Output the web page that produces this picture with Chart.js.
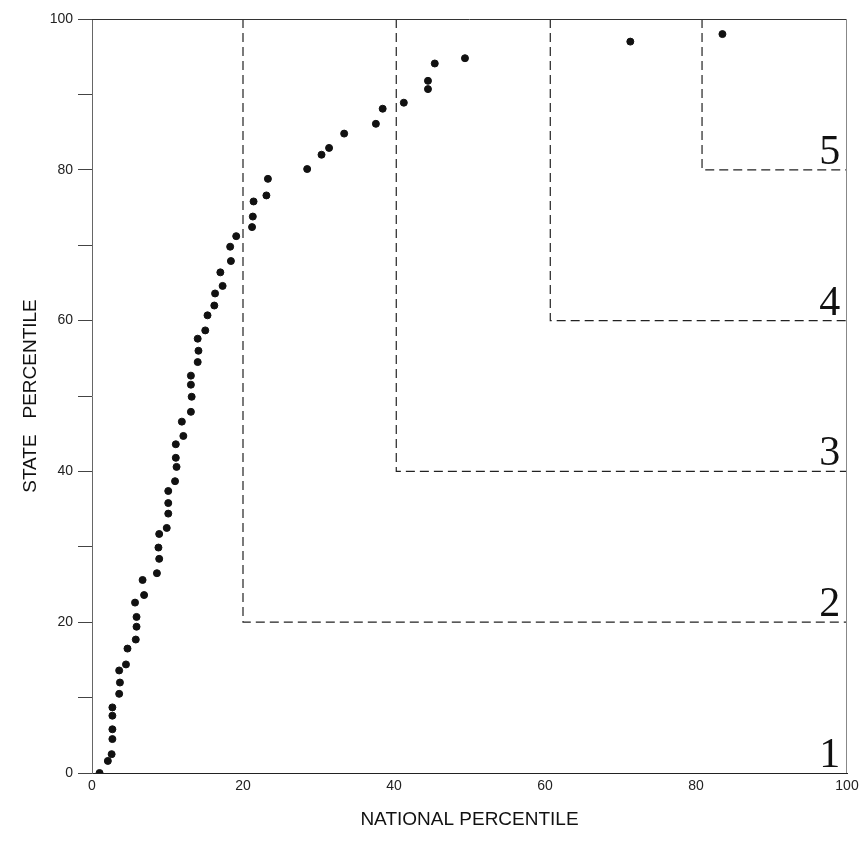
<!DOCTYPE html>
<html>
<head>
<meta charset="utf-8">
<script src="https://cdn.jsdelivr.net/npm/chart.js@4.4.0/dist/chart.umd.min.js"></script>
<style>
  html, body { margin: 0; padding: 0; background: #fff; }
  #wrap { width: 865px; height: 857px; }
</style>
</head>
<body>
<div id="wrap"><canvas id="chart" width="865" height="857"></canvas></div>
<script>
// national vs state percentile, one dot per school
const nationalPct = [
  1.0, 2.1, 2.6, 2.7, 2.7, 2.7, 2.7, 3.6, 3.7, 3.6,
  4.5, 4.7, 5.8, 5.9, 5.9, 5.7, 6.9, 6.7, 8.6, 8.9,
  8.8, 8.9, 9.9, 10.1, 10.1, 10.1, 11.0, 11.2, 11.1, 11.1,
  12.1, 11.9, 13.1, 13.2, 13.1, 13.1, 14.0, 14.1, 14.0, 15.0,
  15.3, 16.2, 16.3, 17.3, 17.0, 18.4, 18.3, 19.1, 21.2, 21.3,
  21.4, 23.1, 23.3, 28.5, 30.4, 31.4, 33.4, 37.6, 38.5, 41.3,
  44.5, 44.5, 45.4, 49.4, 71.3, 83.5
];
const statePct = [
  0.0, 1.6, 2.5, 4.5, 5.8, 7.6, 8.7, 10.5, 12.0, 13.6,
  14.4, 16.5, 17.7, 19.4, 20.7, 22.6, 23.6, 25.6, 26.5, 28.4,
  29.9, 31.7, 32.5, 34.4, 35.8, 37.4, 38.7, 40.6, 41.8, 43.6,
  44.7, 46.6, 47.9, 49.9, 51.5, 52.7, 54.5, 56.0, 57.6, 58.7,
  60.7, 62.0, 63.6, 64.6, 66.4, 67.9, 69.8, 71.2, 72.4, 73.8,
  75.8, 76.6, 78.8, 80.1, 82.0, 82.9, 84.8, 86.1, 88.1, 88.9,
  90.7, 91.8, 94.1, 94.8, 97.0, 98.0
];

// region corners (dashed L shapes) and their numbers
const regionNames = ['1', '2', '3', '4', '5'];
const regionX = [20.0, 40.3, 60.7, 80.8];
const regionY = [20, 40, 60, 80];
const regionLabelY = [0, 20, 40, 60, 80];

const yTicks = [0, 20, 40, 60, 80, 100];
const xTicks = [0, 20, 40, 60, 80, 100];

const dots = nationalPct.map((x, i) => ({ x: x, y: statePct[i] }));

const regionSets = regionX.map((x, i) => ({
  data: [{ x: x, y: 100 }, { x: x, y: regionY[i] }, { x: 100, y: regionY[i] }],
  showLine: true,
  borderColor: '#222',
  borderWidth: 1.2,
  borderDash: [9, 5],
  pointRadius: 0,
  fill: false
}));

const framePlugin = {
  id: 'frame',
  afterDatasetsDraw(chart) {
    const { ctx, chartArea: a, scales } = chart;
    ctx.save();
    ctx.strokeStyle = '#333';
    ctx.lineWidth = 1;
    ctx.beginPath();
    ctx.moveTo(a.left, a.top + 0.5);
    ctx.lineTo(a.right, a.top + 0.5);
    ctx.stroke();
    ctx.strokeStyle = '#888';
    ctx.beginPath();
    ctx.moveTo(a.right - 0.5, a.top);
    ctx.lineTo(a.right - 0.5, a.bottom);
    ctx.stroke();

    // big region numbers
    ctx.fillStyle = '#111';
    ctx.font = '42px "Liberation Serif", "DejaVu Serif", serif';
    ctx.textAlign = 'right';
    ctx.textBaseline = 'alphabetic';
    regionNames.forEach((name, i) => {
      const px = scales.x.getPixelForValue(99.1);
      const py = scales.y.getPixelForValue(regionLabelY[i] + 0.8);
      ctx.fillText(name, px, py);
    });
    ctx.restore();
  }
};

document.addEventListener('DOMContentLoaded', () => {
  const ctx = document.getElementById('chart').getContext('2d');
  new Chart(ctx, {
    type: 'scatter',
    data: {
      datasets: [
        {
          data: dots,
          backgroundColor: '#111',
          borderColor: '#111',
          pointRadius: 3.5,
          pointHoverRadius: 3.5
        },
        ...regionSets
      ]
    },
    options: {
      responsive: false,
      animation: false,
      layout: { padding: { top: 19, right: 18, left: 0, bottom: 0 } },
      plugins: {
        legend: { display: false },
        tooltip: { enabled: false }
      },
      scales: {
        x: {
          type: 'linear',
          min: 0,
          max: 100,
          afterBuildTicks: s => { s.ticks = xTicks.map(v => ({ value: v })); },
          afterFit: s => { s.height = 84; },
          ticks: {
            color: '#222',
            padding: 5,
            maxRotation: 0,
            font: { family: '"Liberation Sans", Arial, sans-serif', size: 14 }
          },
          grid: { display: false, drawTicks: false },
          border: { display: true, color: '#222', width: 1 },
          title: {
            display: true,
            text: 'NATIONAL PERCENTILE',
            color: '#111',
            padding: { top: 26, bottom: 26 },
            font: { family: '"Liberation Sans", Arial, sans-serif', size: 19 }
          }
        },
        y: {
          type: 'linear',
          min: 0,
          max: 100,
          afterFit: s => { s.width = 92; },
          ticks: {
            stepSize: 10,
            color: '#222',
            padding: 5,
            callback: v => (yTicks.includes(v) ? v : ''),
            font: { family: '"Liberation Sans", Arial, sans-serif', size: 14 }
          },
          grid: {
            display: true,
            drawOnChartArea: false,
            drawTicks: true,
            tickLength: 14,
            color: '#444'
          },
          border: { display: true, color: '#666', width: 1 },
          title: {
            display: true,
            text: 'STATE   PERCENTILE',
            color: '#111',
            padding: { top: 19, bottom: 19 },
            font: { family: '"Liberation Sans", Arial, sans-serif', size: 19 }
          }
        }
      }
    },
    plugins: [framePlugin]
  });
});
</script>
</body>
</html>
